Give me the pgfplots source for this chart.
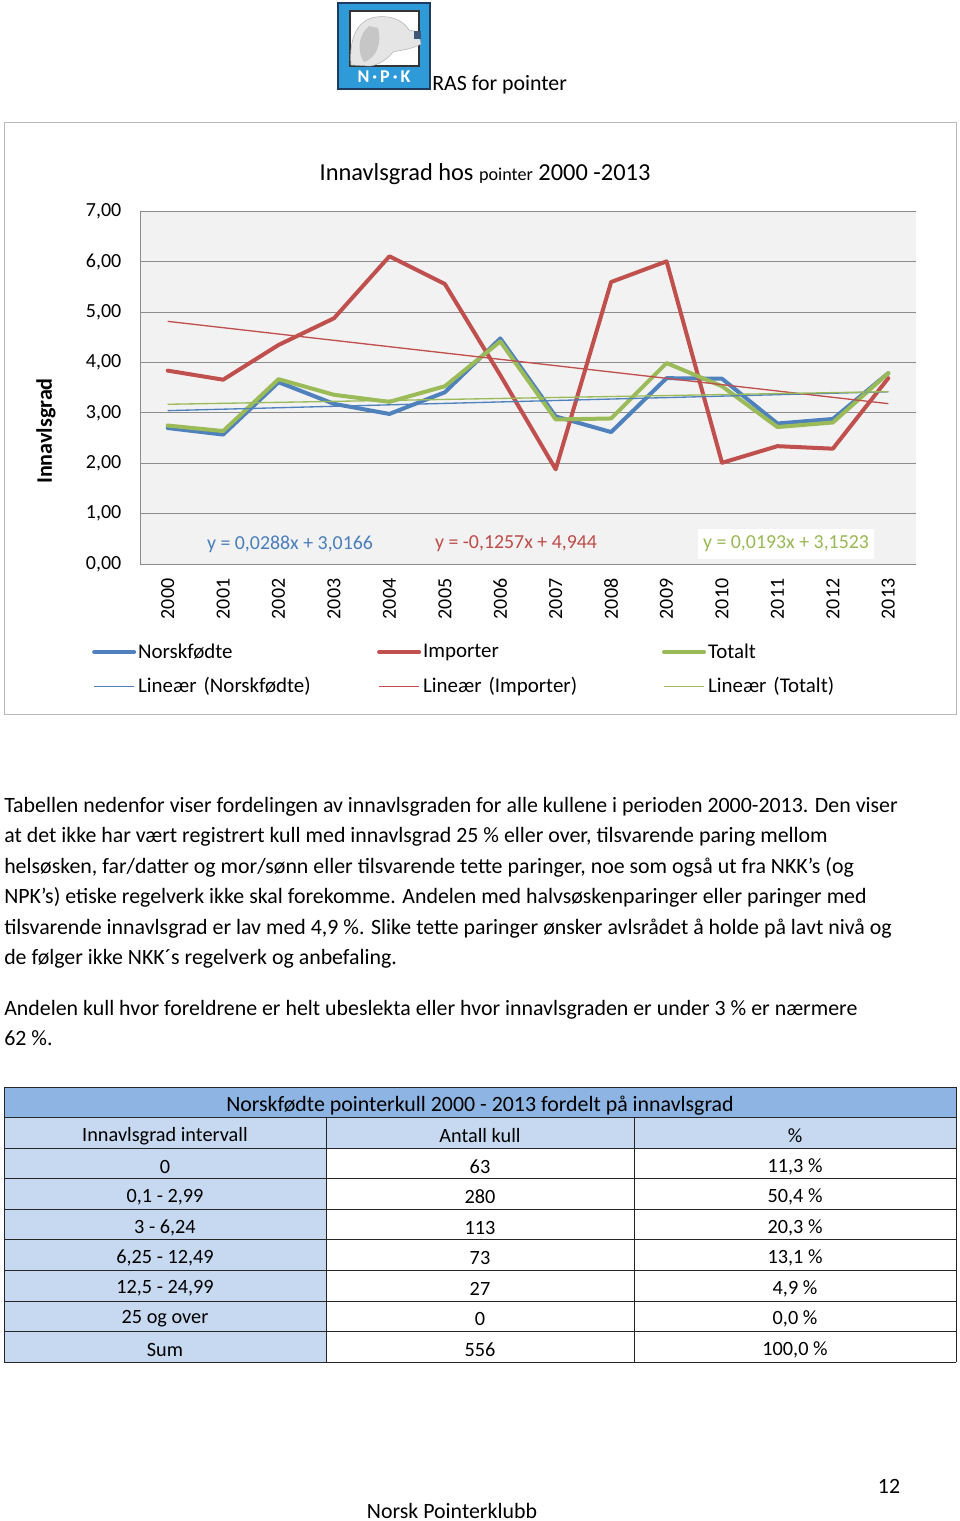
\documentclass[border=0pt]{standalone}
\usepackage{fontspec}
\setmainfont{Carlito}
\usepackage{pgfplots}
\pgfplotsset{compat=1.18}
\definecolor{cblue}{HTML}{4F81BD}
\definecolor{cred}{HTML}{C0504D}
\definecolor{cgreen}{HTML}{9BBB59}
\definecolor{eqblue}{HTML}{4A7EBB}
\definecolor{eqred}{HTML}{BE4B48}
\definecolor{eqgreen}{HTML}{98B954}
\definecolor{gridc}{HTML}{8C8C8C}
\definecolor{plotbg}{HTML}{F2F2F2}
\definecolor{thead}{HTML}{8DB4E2}
\definecolor{tlight}{HTML}{C6D9F1}
\definecolor{logoblue}{HTML}{2E9BD8}
\definecolor{navy}{HTML}{1F3A60}
\newcommand\fs[1]{\fontsize{#1}{#1}\selectfont}
\begin{document}
\begin{tikzpicture}
\begin{scope}[x=0.75pt,y=-0.75pt]
\useasboundingbox (0,0) rectangle (960,1521);
% ---- logo ----
\draw[navy, line width=1.5pt, fill=logoblue] (338,3) rectangle (430,89);
\draw[black!80, line width=1pt, fill=white] (350,11) rectangle (419,66);
\fill[gray!20, draw=gray!60, line width=0.4pt] (351,65) .. controls (349,40) and (356,20) .. (376,17) .. controls (394,15) and (404,22) .. (409,30) -- (418,32) -- (421,44) .. controls (410,50) and (400,50) .. (393,52) .. controls (387,60) and (378,65) .. (370,66) -- cycle;
\fill[gray!45] (369,26) .. controls (358,35) and (357,52) .. (364,62) .. controls (377,58) and (382,42) .. (378,28) -- cycle;
\fill[navy!85] (414,31) rectangle (421,39);
\node[white, font=\bfseries\fs{13.5}] at (384,77) {N\,·\,P\,·\,K};
\node[anchor=base west, inner sep=0pt, font=\fs{16.4}] at (432,90) {RAS for pointer};
% ---- chart frame and texts ----
\draw[gray!55, line width=0.75pt] (4,122) rectangle (956,714);
\node[font=\fs{18.3}] at (485,174) {Innavlsgrad hos {\fs{13.6}pointer} 2000 -2013};
\node[rotate=90, font=\bfseries\fs{16.6}] at (46,431) {Innavlsgrad};
% ---- body text ----
\begin{scope}[every node/.style={anchor=base west, inner sep=0pt, font=\fs{16.4}}]
\node at (4,812) {Tabellen nedenfor viser fordelingen av innavlsgraden for alle kullene i perioden 2000-2013. Den viser};
\node at (4,842) {at det ikke har vært registrert kull med innavlsgrad 25 \% eller over, tilsvarende paring mellom};
\node at (4,873) {helsøsken, far/datter og mor/sønn eller tilsvarende tette paringer, noe som også ut fra NKK’s (og};
\node at (4,903) {NPK’s) etiske regelverk ikke skal forekomme. Andelen med halvsøskenparinger eller paringer med};
\node at (4,934) {tilsvarende innavlsgrad er lav med 4,9 \%. Slike tette paringer ønsker avlsrådet å holde på lavt nivå og};
\node at (4,964) {de følger ikke NKK´s regelverk og anbefaling.};
\node at (4,1015) {Andelen kull hvor foreldrene er helt ubeslekta eller hvor innavlsgraden er under 3 \% er nærmere};
\node at (4,1045) {62 \%.};
\end{scope}
% ---- table ----
\fill[thead] (4,1087) rectangle (956,1117.5);
\fill[tlight] (4,1117.5) rectangle (956,1148);
\fill[tlight] (4,1148) rectangle (326,1362);
\fill[white] (326,1148) rectangle (956,1362);
\foreach \yy in {1087,1117.5,1148,1178.5,1209,1239.5,1270,1301,1331.5,1362}
  \draw[black!85, line width=0.75pt] (4,\yy) -- (956,\yy);
\draw[black!85, line width=0.75pt] (4,1087) -- (4,1362) (956,1087) -- (956,1362);
\draw[black!85, line width=0.75pt] (326,1117.5) -- (326,1362) (634,1117.5) -- (634,1362);
\begin{scope}[every node/.style={font=\fs{15.2}, yshift=-2.25pt}]
\node[font=\fs{16.4}] at (480,1103) {Norskfødte pointerkull 2000 - 2013 fordelt på innavlsgrad};
\node at (165,1133) {Innavlsgrad intervall};
\node at (480,1133) {Antall kull};
\node at (795,1133) {\%};
\node at (165,1163.5) {0};          \node at (480,1163.5) {63};  \node at (795,1163.5) {11,3 \%};
\node at (165,1194) {0,1 - 2,99};   \node at (480,1194) {280};   \node at (795,1194) {50,4 \%};
\node at (165,1224.5) {3 - 6,24};   \node at (480,1224.5) {113}; \node at (795,1224.5) {20,3 \%};
\node at (165,1255) {6,25 - 12,49}; \node at (480,1255) {73};    \node at (795,1255) {13,1 \%};
\node at (165,1285.5) {12,5 - 24,99};\node at (480,1285.5) {27}; \node at (795,1285.5) {4,9 \%};
\node at (165,1316) {25 og over};   \node at (480,1316) {0};     \node at (795,1316) {0,0 \%};
\node at (165,1346.5) {Sum};        \node at (480,1346.5) {556}; \node at (795,1346.5) {100,0 \%};
\end{scope}
% ---- footer ----
\node[anchor=base, inner sep=0pt, font=\fs{16.4}] at (889,1493) {12};
\node[anchor=base, inner sep=0pt, font=\fs{16.4}] at (452,1518) {Norsk Pointerklubb};
\end{scope}
\begin{axis}[
  at={(105pt,-423pt)}, anchor=south west,
  scale only axis, width=582pt, height=264.4pt,
  xmin=-0.5, xmax=13.5, ymin=0, ymax=7,
  xtick={0,1,...,13},
  xticklabels={2000,2001,2002,2003,2004,2005,2006,2007,2008,2009,2010,2011,2012,2013},
  ytick={0,1,...,7},
  ymajorgrids, grid style={gridc, line width=0.75pt},
  major tick length=0pt,
  axis x line*=bottom, axis y line*=left,
  axis line style={gridc, line width=0.75pt, -},
  axis background/.style={fill=plotbg},
  tick label style={font=\fs{15}},
  /pgf/number format/assume math mode=true,
  yticklabel shift=10.5pt,
  xticklabel shift=7.5pt,
  yticklabel style={/pgf/number format/.cd, fixed, fixed zerofill, precision=2, use comma},
  xticklabel style={rotate=90, anchor=east},
  legend columns=3,
  legend cell align=left,
  legend style={at={(-0.0620,-0.2255)}, anchor=north west, draw=none, fill=none,
    inner sep=0pt, font=\fs{15.7}, row sep=13pt,
    /tikz/every odd column/.append style={column sep=1.5pt},
    nodes={inner sep=0pt, text width=179.2pt, align=left}},
  legend image code/.code={\draw[#1] (0pt,0pt) -- (30pt,0pt);},
]
\addplot[cblue, line width=3pt, line join=round, line cap=round] coordinates {
 (0,2.70) (1,2.57) (2,3.61) (3,3.18) (4,2.98) (5,3.41) (6,4.48)
 (7,2.93) (8,2.62) (9,3.69) (10,3.68) (11,2.79) (12,2.88) (13,3.79)};
\addlegendentry{Norskfødte}
\addplot[cred, line width=3pt, line join=round, line cap=round] coordinates {
 (0,3.84) (1,3.66) (2,4.35) (3,4.88) (4,6.11) (5,5.56) (6,3.75)
 (7,1.88) (8,5.60) (9,6.01) (10,2.01) (11,2.34) (12,2.29) (13,3.69)};
\addlegendentry{Importer}
\addplot[cgreen, line width=3pt, line join=round, line cap=round] coordinates {
 (0,2.75) (1,2.64) (2,3.67) (3,3.36) (4,3.22) (5,3.53) (6,4.42)
 (7,2.87) (8,2.89) (9,3.99) (10,3.53) (11,2.72) (12,2.81) (13,3.79)};
\addlegendentry{Totalt}
\addplot[cblue, line width=1pt] coordinates {(0,3.0454) (13,3.4198)};
\addlegendentry{Lineær (Norskfødte)}
\addplot[cred, line width=1pt] coordinates {(0,4.8183) (13,3.1842)};
\addlegendentry{Lineær (Importer)}
\addplot[cgreen, line width=1pt] coordinates {(0,3.1716) (13,3.4225)};
\addlegendentry{Lineær (Totalt)}
\end{axis}
\begin{scope}[x=0.75pt,y=-0.75pt]
\node[text=eqblue, font=\fs{14.9}] at (290,544) {y = 0,0288x + 3,0166};
\node[text=eqred, font=\fs{14.9}] at (516,544) {y = -0,1257x + 4,944};
\node[fill=white, text=eqgreen, font=\fs{14.9}, minimum height=22pt, inner xsep=3.5pt] at (786,544) {y = 0,0193x + 3,1523};
\end{scope}
\end{tikzpicture}
\end{document}
